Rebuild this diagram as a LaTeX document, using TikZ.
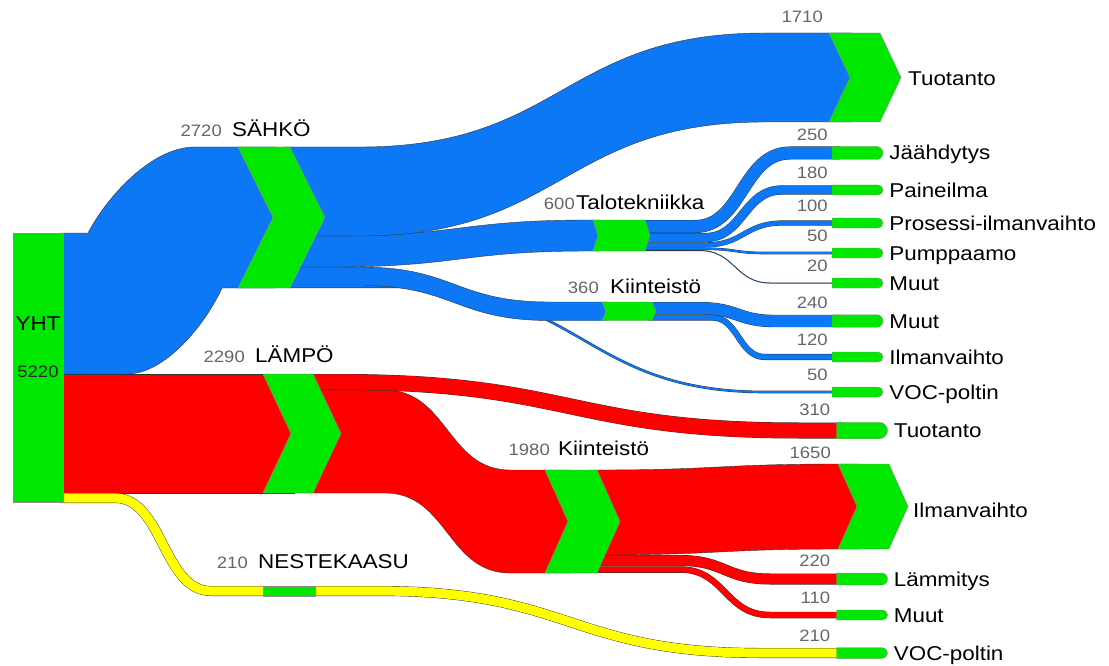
\documentclass[tikz,border=0pt]{standalone}
\usepackage{fontspec}
\setmainfont{Liberation Sans}[FakeStretch=1.12]
\usetikzlibrary{shapes.misc, positioning}

\definecolor{sblue}{RGB}{12,120,245}
\definecolor{sred}{RGB}{255,0,0}
\definecolor{syellow}{RGB}{255,255,0}
\definecolor{sgreen}{RGB}{0,232,0}

\tikzstyle{flow} = [draw=black!80, line width=0.4pt]
\tikzstyle{tubeline} = [draw=black!80, line width=0.4pt]
\tikzstyle{chev} = [fill=sgreen, draw=black!45, line width=0.4pt]
\tikzstyle{leafbar} = [rounded rectangle, rounded rectangle west arc=none, fill=sgreen, draw=black!45, line width=0.4pt, minimum width=51pt, inner sep=0pt]
\tikzstyle{namelbl} = [inner sep=0pt, text=black, font=\fontsize{20}{24}\selectfont, text height=14pt, text depth=0pt]
\tikzstyle{vallbl} = [inner sep=0pt, text=black!60, font=\fontsize{16.5}{20}\selectfont, text depth=0pt]

% band: colour, start x, curve start x, curve end x, end x, top y at start, top y at end, thickness
\newcommand{\flowband}[8]{%
  \filldraw[flow, fill=#1] (#2,#6) -- (#3,#6) .. controls ({(#3+#4)/2},#6) and ({(#3+#4)/2},#7) .. (#4,#7) -- (#5,#7)
    -- (#5,{#7+#8}) -- (#4,{#7+#8}) .. controls ({(#3+#4)/2},{#7+#8}) and ({(#3+#4)/2},{#6+#8}) .. (#3,{#6+#8}) -- (#2,{#6+#8}) -- cycle;}
% tube: colour, start x, curve start x, curve end x, end x, mid y at start, mid y at end, thickness
\newcommand{\flowtube}[8]{%
  \draw[tubeline, double=#1, double distance={#8-0.8}] (#2,#6) -- (#3,#6) .. controls ({(#3+#4)/2},#6) and ({(#3+#4)/2},#7) .. (#4,#7) -- (#5,#7);}
% chevron: name, left x, top y, bottom y, width, point depth
\newcommand{\chevnode}[6]{%
  \filldraw[chev] (#2,#3) -- ({#2+#5},#3) -- ({#2+#5+#6},{(#3+#4)/2}) -- ({#2+#5},#4) -- (#2,#4) -- ({#2+#6},{(#3+#4)/2}) -- cycle;
  \coordinate (#1) at ({#2+#5/2},{(#3+#4)/2});}

\begin{document}
\begin{tikzpicture}[x=1pt, y=-1pt]
	\useasboundingbox (0,0) rectangle (1109,666);
	
	% Flows from YHT
	\filldraw[flow, fill=sred] (60,374) rectangle (294,493);
	\filldraw[flow, fill=sblue] (60,233) -- (88,233) .. controls (105,200) and (150,147) .. (195,147) -- (275,147)
		-- (275,288) -- (222,288) .. controls (205,325) and (165,374) .. (127,374) -- (60,374) -- cycle;
	\draw[tubeline, double=syellow, double distance=9.2] (60,498) -- (115,498) .. controls (163,498) and (163,591) .. (211,591)
		-- (380,591) .. controls (570,591) and (570,653) .. (760,653) -- (845,653);
	
	% Flows from SAHKO
	\flowtube{sblue}{288}{400}{765}{840}{286.8}{392}{2.6}
	\flowband{sblue}{285}{360}{550}{607}{267}{302}{18.5}
	\flowband{sblue}{285}{330}{590}{600}{236}{220}{31}
	\flowband{sblue}{285}{360}{765}{852}{147}{33}{89}
	
	% Flows from Talotekniikka
	\flowtube{sblue}{640}{700}{770}{840}{250.6}{283}{1}
	\flowtube{sblue}{640}{705}{765}{840}{248.8}{253}{2.6}
	\flowtube{sblue}{640}{705}{783}{840}{244.9}{223}{5.2}
	\flowtube{sblue}{640}{705}{782}{840}{237.6}{190}{9.3}
	\flowtube{sblue}{640}{695}{790}{840}{226.5}{153}{13}
	
	% Flows from Kiinteisto (blue)
	\flowtube{sblue}{648}{712}{765}{840}{317.5}{357}{6.2}
	\flowtube{sblue}{648}{700}{775}{840}{308.2}{321}{12.4}
	
	% Flows from LAMPO
	\flowband{sred}{305}{385}{510}{570}{390}{470}{103}
	\flowtube{sred}{305}{340}{800}{845}{382}{430.5}{16}
	
	% Flows from Kiinteisto (red)
	\flowtube{sred}{590}{680}{770}{845}{569.5}{615}{6.5}
	\flowtube{sred}{590}{680}{770}{845}{560.5}{579}{11}
	\flowband{sred}{590}{597}{840}{859}{470}{464}{85}
	
	% Chevrons
	\chevnode{sahko}{238}{147}{288}{52}{35}
	\chevnode{lampo}{263}{374}{493}{50}{28}
	\chevnode{tuotanto}{829}{33}{122}{51}{21}
	\chevnode{talotek}{593}{220}{251}{52}{5}
	\chevnode{kiint}{602}{302}{320.5}{50}{4}
	\chevnode{kiintred}{545}{470}{573}{52}{23}
	\chevnode{ilmanv}{838}{464}{549}{51}{19}
	
	% Bars
	\node[chev, rectangle, minimum width=50pt, minimum height=269pt, inner sep=0pt] (yht) at (38,367.5) {};
	\node[chev, rectangle, minimum width=52pt, minimum height=10.5pt, inner sep=0pt] (neste) at (289,591) {};
	\node[leafbar, minimum height=13pt] (jaahd) at (857.5,153) {};
	\node[leafbar, minimum height=10pt] (paine) at (857.5,190) {};
	\node[leafbar, minimum height=10pt] (prosessi) at (857.5,223) {};
	\node[leafbar, minimum height=10pt] (pumppu) at (857.5,253) {};
	\node[leafbar, minimum height=10pt] (muut1) at (857.5,283) {};
	\node[leafbar, minimum height=12.4pt] (muut2) at (857.5,321) {};
	\node[leafbar, minimum height=10pt] (ilma1) at (857.5,357) {};
	\node[leafbar, minimum height=10pt] (voc1) at (857.5,392) {};
	\node[leafbar, minimum height=16.5pt] (tuot2) at (862,430.5) {};
	\node[leafbar, minimum height=12pt] (lammitys) at (862,579) {};
	\node[leafbar, minimum height=10pt] (muut3) at (862,615) {};
	\node[leafbar, minimum height=11pt] (voc2) at (862,653) {};
	
	% Labels
	\node[namelbl, anchor=base] (lyht) at (38,330) {YHT};
	\node[vallbl, anchor=base, text=black!85] (vyht) at (38,377) {5220};
	\node[namelbl, anchor=base west] (lsahko) at (232,137) {SÄHKÖ};
	\node[vallbl, left=10pt of lsahko.base west, anchor=base east] (vsahko) {2720};
	\node[namelbl, anchor=base west] (llampo) at (255,362) {LÄMPÖ};
	\node[vallbl, left=10pt of llampo.base west, anchor=base east] (vlampo) {2290};
	\node[namelbl, anchor=base west] (ltalotek) at (576,210) {Talotekniikka};
	\node[vallbl, left=1pt of ltalotek.base west, anchor=base east] (vtalotek) {600};
	\node[namelbl, anchor=base west] (lkiint) at (610,293) {Kiinteistö};
	\node[vallbl, left=11pt of lkiint.base west, anchor=base east] (vkiint) {360};
	\node[namelbl, anchor=base west] (lkiintred) at (558,455) {Kiinteistö};
	\node[vallbl, left=8pt of lkiintred.base west, anchor=base east] (vkiintred) {1980};
	\node[namelbl, anchor=base west] (lneste) at (258,568) {NESTEKAASU};
	\node[vallbl, left=10pt of lneste.base west, anchor=base east] (vneste) {210};
	\node[namelbl, anchor=base west] (ltuot) at (908,86) {Tuotanto};
	\node[vallbl, anchor=base east] (vtuot) at (823,23) {1710};
	\node[namelbl, anchor=base west] (lilmanv) at (913,517) {Ilmanvaihto};
	\node[vallbl, anchor=base east] (vilmanv) at (831,458) {1650};
	
	\node[namelbl, right=6pt of jaahd] (ljaahd) {Jäähdytys};
	\node[namelbl, right=6pt of paine] (lpaine) {Paineilma};
	\node[namelbl, right=6pt of prosessi] (lprosessi) {Prosessi-ilmanvaihto};
	\node[namelbl, right=6pt of pumppu] (lpumppu) {Pumppaamo};
	\node[namelbl, right=6pt of muut1] (lmuut1) {Muut};
	\node[namelbl, right=6pt of muut2] (lmuut2) {Muut};
	\node[namelbl, right=6pt of ilma1] (lilma1) {Ilmanvaihto};
	\node[namelbl, right=6pt of voc1] (lvoc1) {VOC-poltin};
	\node[namelbl, right=6pt of tuot2] (ltuot2) {Tuotanto};
	\node[namelbl, right=6pt of lammitys] (llammitys) {Lämmitys};
	\node[namelbl, right=6pt of muut3] (lmuut3) {Muut};
	\node[namelbl, right=6pt of voc2] (lvoc2) {VOC-poltin};
	
	\node[vallbl, above left=6pt and 4pt of jaahd.north west] (vjaahd) {250};
	\node[vallbl, above left=6pt and 4pt of paine.north west] (vpaine) {180};
	\node[vallbl, above left=6pt and 4pt of prosessi.north west] (vprosessi) {100};
	\node[vallbl, above left=6pt and 4pt of pumppu.north west] (vpumppu) {50};
	\node[vallbl, above left=6pt and 4pt of muut1.north west] (vmuut1) {20};
	\node[vallbl, above left=6pt and 4pt of muut2.north west] (vmuut2) {240};
	\node[vallbl, above left=6pt and 4pt of ilma1.north west] (vilma1) {120};
	\node[vallbl, above left=6pt and 4pt of voc1.north west] (vvoc1) {50};
	\node[vallbl, above left=6pt and 6pt of tuot2.north west] (vtuot2) {310};
	\node[vallbl, above left=6pt and 6pt of lammitys.north west] (vlammitys) {220};
	\node[vallbl, above left=6pt and 6pt of muut3.north west] (vmuut3) {110};
	\node[vallbl, above left=6pt and 6pt of voc2.north west] (vvoc2) {210};
	
\end{tikzpicture}
\end{document}
